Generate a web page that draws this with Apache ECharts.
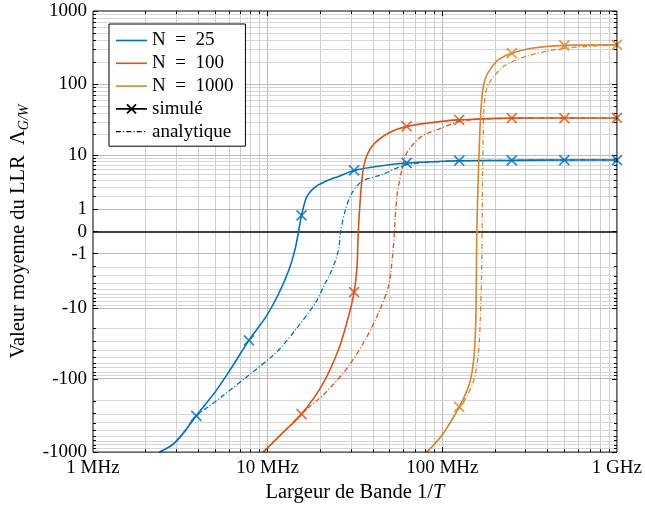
<!DOCTYPE html>
<html>
<head>
<meta charset="utf-8">
<script src="https://cdn.jsdelivr.net/npm/echarts@6/dist/echarts.min.js"></script>
<style>html,body{margin:0;padding:0;background:#fff;}#c{width:645px;height:508px;}</style>
</head>
<body>
<div id="c"></div>
<script>
// ---------------- DATA (frequency in MHz, mean LLR value) ----------------
const simFreqMHz = [3.90625, 7.8125, 15.625, 31.25, 62.5, 125, 250, 500, 1000];
const simMarkN25   = [-320, -29.2, 0.66, 5.79, 7.57, 8.2, 8.3, 8.4, 8.4];
const simMarkN100  = [null, null, -304, -5.67, 25.9, 32.1, 33.9, 34.0, 34.1];
const simMarkN1000 = [null, null, null, null, null, -242, 266, 340, 345];

const simCurveN25 = [[2.4,-1000],[2.84,-800],[3.27,-560],[3.906,-320],[5.07,-145],[6.3,-66.5],[7.8125,-29.2],[9.77,-13.5],[11.63,-5.8],[13.26,-2.28],[14.35,-0.75],[14.98,-0.04],[15.625,0.66],[16.5,1.72],[17.12,2.23],[18.0,2.72],[19.4,3.28],[21.5,3.82],[23.3,4.24],[25.5,4.63],[31.25,5.79],[45.1,6.87],[62.5,7.57],[108,8.1],[125,8.2],[250,8.3],[500,8.4],[1000,8.4]];
const anaCurveN25 = [[2.4,-1000],[2.84,-800],[3.27,-560],[3.906,-315],[4.6,-240],[5.53,-171],[7.85,-88],[10.65,-48.3],[12.15,-35],[14.5,-20.4],[18.8,-8.3],[21.0,-4.5],[23.4,-2.28],[25.5,-0.75],[26.1,-0.04],[27.9,0.99],[30.4,2.35],[34.7,3.82],[45.1,4.94],[62.5,7.12],[125,8.15],[250,8.3],[500,8.4],[1000,8.45]];

const simCurveN100 = [[9.43,-1000],[12.15,-552],[15.625,-304],[20.5,-122],[25.5,-39],[29.1,-13.1],[31.25,-5.67],[32.5,-1.96],[32.9,-0.28],[33.6,0.99],[35.5,6.7],[39.5,13.4],[49.3,20.9],[62.5,25.9],[108,31.3],[125,32.1],[250,33.9],[500,34],[1000,34]];
const anaCurveN100 = [[9.43,-1000],[12.15,-552],[15.625,-300],[21.5,-154],[29.1,-66.5],[36.3,-28.3],[43.2,-11.7],[49.2,-4.53],[51.9,-1.16],[53.1,-0.04],[55,2.02],[58.7,5.95],[62.5,10.7],[76.2,18.7],[99,24.6],[125,30.4],[167,32.9],[250,33.7],[500,34],[1000,34]];

const simCurveN1000 = [[81.4,-1000],[99,-600],[125,-242],[143.8,-112],[152,-48.3],[155.6,-14.7],[156.8,-2.28],[157.7,0],[160.4,4.08],[165,30],[168,60],[172,95],[180,135],[190,165],[208.6,215],[250,266],[323,311],[500,340],[1000,345]];
const anaCurveN1000 = [[81.4,-1000],[99,-600],[125,-250],[131.8,-211],[150.2,-112],[160.4,-48.3],[165,-15],[168,-2.3],[169,0],[170,5],[171.5,20],[173,44],[178,80],[190,114],[222.6,173],[250,202],[309,245],[402,286],[500,311],[679,329],[1000,345]];

const xTickMHz = [1, 10, 100, 1000];
const xTickLabels = ['1 MHz', '10 MHz', '100 MHz', '1 GHz'];
const yTickValues = [-1000, -100, -10, -1, 0, 1, 10, 100, 1000];
const yTickLabels = ['-1000', '-100', '-10', '-1', '0', '1', '10', '100', '1000'];

const seriesNames = ['N = 25', 'N = 100', 'N = 1000'];
const seriesColors = ['#0072BD', '#D95319', '#D8862F'];

// ---------------- helpers ----------------
const T = v => (v === null ? null : Math.sign(v) * Math.log10(1 + Math.abs(v)));
const FONT = 'Liberation Serif';
const FS = 19, FS_TITLE = 20.5;
const PLOT_W = 526.5, PLOT_H = 442;
const curvePts = arr => arr.map(p => [p[0], T(p[1])]);
const markPts = vals => simFreqMHz.map((f, i) => vals[i] === null ? null : [f, T(vals[i])]).filter(Boolean);
const yTickT = yTickValues.map(T);
const yMax = T(1000), yMin = -T(1000);
const xMin = xTickMHz[0], xMax = xTickMHz[xTickMHz.length - 1];
const uy = (yMax - yMin) / PLOT_H;                       // data units per pixel (y)
const fx = px => Math.pow(10, Math.log10(xMax / xMin) * px / PLOT_W); // frequency factor per px (x)

// grid lines & tick marks
const gridLines = [];
const tickStyle = {color: '#000', width: 1, type: 'solid'};
const xMinor = [], yMinorAbs = [];
[1, 10, 100].forEach(d => { for (let k = 2; k <= 9; k++) { xMinor.push(k * d); yMinorAbs.push(k * d); } });
xMinor.forEach(v => gridLines.push({xAxis: v, lineStyle: {color: '#cfcfcf', width: 1, type: 'solid'}}));
[10, 100].forEach(v => gridLines.push({xAxis: v, lineStyle: {color: '#b8b8b8', width: 1, type: 'solid'}}));
yMinorAbs.forEach(v => [1, -1].forEach(s => gridLines.push({yAxis: T(s * v), lineStyle: {color: '#d6d6d6', width: 1, type: 'solid'}})));
[1, 10, 100].forEach(v => [1, -1].forEach(s => gridLines.push({yAxis: T(s * v), lineStyle: {color: '#bcbcbc', width: 1, type: 'solid'}})));
gridLines.push({yAxis: 0, lineStyle: {color: '#000', width: 1.6, type: 'solid'}});
// x ticks (bottom & top)
const addXTick = (v, len) => {
  gridLines.push([{coord: [v, yMin], lineStyle: tickStyle}, {coord: [v, yMin + len * uy]}]);
  gridLines.push([{coord: [v, yMax], lineStyle: tickStyle}, {coord: [v, yMax - len * uy]}]);
};
xMinor.forEach(v => addXTick(v, 3));
[10, 100].forEach(v => addXTick(v, 5));
// y ticks (left & right)
const addYTick = (t, len) => {
  gridLines.push([{coord: [xMin, t], lineStyle: tickStyle}, {coord: [xMin * fx(len), t]}]);
  gridLines.push([{coord: [xMax, t], lineStyle: tickStyle}, {coord: [xMax / fx(len), t]}]);
};
yMinorAbs.forEach(v => [1, -1].forEach(s => addYTick(T(s * v), 3)));
yTickT.forEach(t => addYTick(t, 5));

const crossSym = 'path://M0,0L10,10M10,0L0,10';
const series = [];
series.push({
  name: 'grid', type: 'line', data: [[1, 0]], symbol: 'none', silent: true, z: 1,
  lineStyle: {opacity: 0},
  markLine: {silent: true, z: 1, symbol: 'none', label: {show: false}, animation: false, data: gridLines}
});
const simCurves = [simCurveN25, simCurveN100, simCurveN1000];
const anaCurves = [anaCurveN25, anaCurveN100, anaCurveN1000];
const simMarks = [simMarkN25, simMarkN100, simMarkN1000];
for (let i = 0; i < 3; i++) {
  series.push({
    name: seriesNames[i] + ' ana', type: 'line', data: curvePts(anaCurves[i]), symbol: 'none', z: 3,
    smooth: 0.3,
    lineStyle: {color: seriesColors[i], width: 1.3, type: [5, 2.2, 1, 2.2]}
  });
  series.push({
    name: seriesNames[i] + ' sim', type: 'line', data: curvePts(simCurves[i]), symbol: 'none', z: 4,
    smooth: 0.3,
    lineStyle: {color: seriesColors[i], width: 1.6}
  });
  series.push({
    name: seriesNames[i] + ' mk', type: 'scatter', data: markPts(simMarks[i]), z: 5,
    symbol: crossSym, symbolSize: 10, clip: false,
    itemStyle: {color: 'none', borderColor: seriesColors[i], borderWidth: 1.8}
  });
}
// legend-only series
const legendColors = seriesColors.concat(['#000', '#000']);
const legendNames = seriesNames.concat(['simulé', 'analytique']);
legendNames.forEach((n, i) => series.push({name: n, type: 'line', data: [], symbol: 'none', itemStyle: {color: legendColors[i]}, lineStyle: {color: legendColors[i]}}));

const iconLine = 'path://M0,4.2H31V5.8H0Z';
const iconSim = 'path://M0,4.2H31V5.8H0Z M10.36,1.14 L11.64,-0.14 L20.64,8.86 L19.36,10.14 Z M19.36,-0.14 L20.64,1.14 L11.64,10.14 L10.36,8.86 Z';
const iconAna = 'path://M0,4.35H5V5.65H0Z M7.2,4.35H8.2V5.65H7.2Z M10.4,4.35H15.4V5.65H10.4Z M17.6,4.35H18.6V5.65H17.6Z M20.8,4.35H25.8V5.65H20.8Z M28,4.35H29V5.65H28Z M31,0H31.01V10H31Z M0,0H0.01V10H0Z';
const legendIcons = [iconLine, iconLine, iconLine, iconSim, iconAna];

const chart = echarts.init(document.getElementById('c'), null, {renderer: 'canvas'});
chart.setOption({
  animation: false,
  backgroundColor: '#fff',
  textStyle: {fontFamily: FONT},
  grid: {left: 93, top: 11, width: PLOT_W, height: PLOT_H, show: true, borderColor: '#000', borderWidth: 1, backgroundColor: 'transparent', z: 6},
  legend: {
    z: 20, orient: 'vertical', left: 109, top: 24, padding: [7, 12, 5, 7], itemGap: 3.8,
    itemWidth: 31, itemHeight: 14, backgroundColor: '#fff', borderColor: '#000', borderWidth: 1,
    textStyle: {fontFamily: FONT, fontSize: FS, color: '#000'},
    selectedMode: false,
    data: legendNames.map((n, i) => ({name: n, icon: legendIcons[i], itemStyle: {color: legendColors[i], borderWidth: 0}})),
    formatter: n => n.replace(' = ', '\u2002=\u2002')
  },
  xAxis: {
    type: 'log', logBase: 10, min: xMin, max: xMax,
    name: 'Largeur de Bande 1/{i|T}', nameLocation: 'middle', nameGap: 29,
    nameTextStyle: {fontFamily: FONT, fontSize: FS_TITLE, color: '#000', rich: {i: {fontFamily: FONT, fontSize: FS_TITLE, fontStyle: 'italic', color: '#000'}}},
    axisLine: {show: false},
    axisTick: {show: false},
    splitLine: {show: false},
    axisLabel: {fontFamily: FONT, fontSize: FS, color: '#000', margin: 6,
      formatter: v => { const i = xTickMHz.findIndex(t => Math.abs(t - v) / t < 1e-6); return i >= 0 ? xTickLabels[i] : ''; }}
  },
  yAxis: {
    type: 'value', min: yMin, max: yMax,
    name: 'Valeur moyenne du LLR  {g|Λ}{s|G/W}', nameLocation: 'middle', nameRotate: 90, nameGap: 62,
    nameTextStyle: {fontFamily: FONT, fontSize: FS_TITLE, color: '#000',
      rich: {g: {fontFamily: FONT, fontSize: FS_TITLE, color: '#000'},
             s: {fontFamily: FONT, fontSize: 14, fontStyle: 'italic', color: '#000', padding: [10, 0, 0, 0]}}},
    axisLine: {show: false},
    splitLine: {show: false},
    axisTick: {show: false},
    axisLabel: {fontFamily: FONT, fontSize: FS, color: '#000', margin: 6, customValues: yTickT,
      formatter: v => { const i = yTickT.findIndex(t => Math.abs(t - v) < 1e-6); return i >= 0 ? yTickLabels[i] : ''; }}
  },
  series: series
});
</script>
</body>
</html>
